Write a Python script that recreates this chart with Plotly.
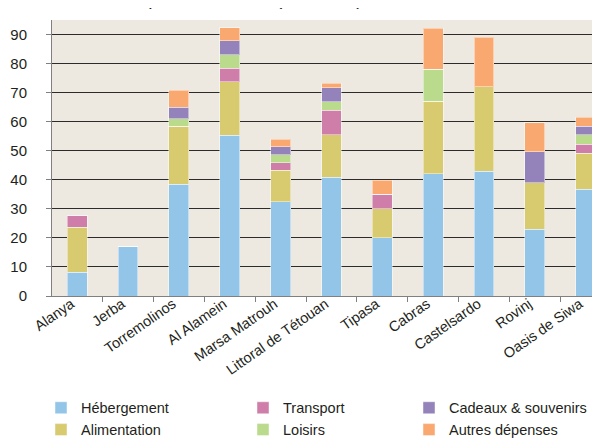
import plotly.graph_objects as go

categories = ["Alanya", "Jerba", "Torremolinos", "Al Alamein", "Marsa Matrouh",
              "Littoral de Tétouan", "Tipasa", "Cabras", "Castelsardo", "Rovinj",
              "Oasis de Siwa"]

hebergement = [8.1, 17.2, 38.4, 55.3, 32.4, 40.8, 20.1, 42.1, 42.9, 23.0, 36.7]
alimentation = [15.5, 0, 20.0, 18.5, 10.8, 14.7, 9.9, 24.9, 29.2, 15.9, 12.5]
transport = [4.2, 0, 0, 4.6, 2.6, 8.5, 5.0, 0, 0, 0, 3.1]
loisirs = [0, 0, 2.6, 4.7, 2.8, 2.9, 0, 11.1, 0, 0, 3.2]
cadeaux = [0, 0, 3.9, 4.7, 2.7, 4.7, 0, 0, 0, 10.7, 2.9]
autres = [0, 0, 5.9, 4.6, 2.7, 1.6, 4.9, 14.0, 17.0, 10.0, 3.1]

y_ticks = [0, 10, 20, 30, 40, 50, 60, 70, 80, 90]

series = [
    ("Hébergement", hebergement, "#93C5E9", "legend", 1),
    ("Alimentation", alimentation, "#D8CB6F", "legend", 2),
    ("Transport", transport, "#CE7EA9", "legend2", 1),
    ("Loisirs", loisirs, "#BADA8C", "legend2", 2),
    ("Cadeaux & souvenirs", cadeaux, "#9482BA", "legend3", 1),
    ("Autres dépenses", autres, "#F9A970", "legend3", 2),
]

FONT = "Liberation Sans, Arial, sans-serif"
TXT = "#231F20"

fig = go.Figure()
for name, vals, color, leg, rank in series:
    fig.add_trace(go.Bar(
        x=categories, y=vals, name=name, legend=leg, legendrank=rank,
        marker=dict(color=color, line=dict(color="rgba(255,255,255,0.45)", width=1)),
    ))

fig.update_layout(
    width=600, height=438,
    barmode="stack", bargap=0.61,
    paper_bgcolor="white", plot_bgcolor="#EDE9E0",
    margin=dict(l=44, r=0, t=12, b=140),
    font=dict(family=FONT, color=TXT),
    showlegend=True,
    annotations=[dict(
        text="Dépenses totales (en euros)", xref="paper", yref="paper",
        x=(114 - 44) / 556, y=1, xanchor="left", yanchor="bottom", yshift=9,
        showarrow=False, font=dict(size=19, family=FONT, color=TXT),
    )],
)

leg_common = dict(orientation="v", yanchor="top", xanchor="left",
                  traceorder="normal",
                  font=dict(size=14.5, family=FONT, color=TXT),
                  bgcolor="rgba(0,0,0,0)", tracegroupgap=0, itemclick=False)
ly = (297.7 - 397) / 286
fig.update_layout(
    legend=dict(x=(33 - 44) / 556, y=ly, **leg_common),
    legend2=dict(x=(235 - 44) / 556, y=ly, **leg_common),
    legend3=dict(x=(401 - 44) / 556, y=ly, **leg_common),
)

fig.update_xaxes(
    range=[-0.496, 10.44], tickangle=-35,
    tickfont=dict(size=14.5, family=FONT, color=TXT),
    showline=True, linecolor="#808080", linewidth=1,
    ticks="outside", tickson="boundaries", ticklen=5, tickcolor="#808080",
    ticklabelshift=-6, ticklabelstandoff=-7,
    showgrid=False,
)
fig.update_yaxes(
    range=[0, 95], tickvals=y_ticks,
    tickfont=dict(size=15, family=FONT, color=TXT),
    showline=True, linecolor="#808080", linewidth=1,
    ticks="outside", ticklen=5, tickcolor="#808080", ticklabelstandoff=16,
    showgrid=True, gridcolor="#2B2B2B", gridwidth=1, zeroline=False,
)

fig.write_html("out.html")
